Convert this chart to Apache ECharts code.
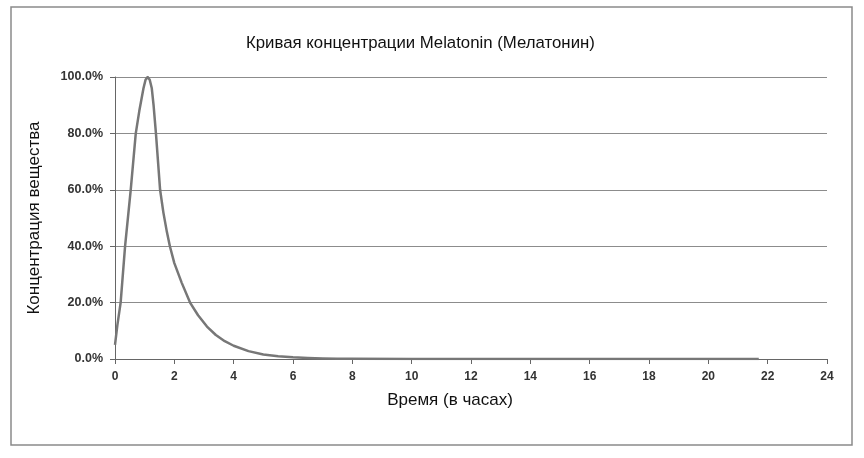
<!DOCTYPE html>
<html>
<head>
<meta charset="utf-8">
<script src="https://cdn.jsdelivr.net/npm/echarts@6/dist/echarts.min.js"></script>
<style>
    html, body { margin: 0; padding: 0; background: #fff; }
    #chart { width: 864px; height: 458px; }
</style>
</head>
<body>
<div id="chart"></div>
<script>
// hours after intake
const hours = [0, 0.08, 0.19, 0.34, 0.53, 0.7, 0.82, 0.96, 1.03, 1.1, 1.17, 1.24, 1.3, 1.38, 1.45, 1.52, 1.63, 1.75, 1.85, 2.0, 2.25, 2.53, 2.8, 3.1, 3.4, 3.7, 4.0, 4.5, 5.0, 5.5, 6.0, 6.5, 7.0, 7.5, 8, 10, 12, 14, 16, 18, 20, 21.7];
// concentration, % of peak
const concentration = [5, 12, 20, 40, 60, 80, 88, 96, 99, 100, 99, 96, 90, 80, 70, 60, 52, 45, 40, 34, 27, 20, 15.5, 11.5, 8.5, 6.3, 4.7, 2.8, 1.6, 1.0, 0.6, 0.35, 0.2, 0.1, 0.05, 0, 0, 0, 0, 0, 0, 0];
const xTicks = { min: 0, max: 24, interval: 2 };
const yTicks = { min: 0, max: 100, interval: 20 };

const points = hours.map((h, i) => [h, concentration[i]]);

const chart = echarts.init(document.getElementById('chart'));
const font = '"Liberation Sans", Arial, sans-serif';

chart.setOption({
    animation: false,
    graphic: [{
        type: 'rect',
        shape: { x: 11, y: 7, width: 841, height: 438 },
        style: { fill: 'none', stroke: '#8a8a8a', lineWidth: 1.5 }
    }],
    title: {
        text: 'Кривая концентрации Melatonin (Мелатонин)',
        left: 241,
        top: 30,
        textStyle: { fontFamily: font, fontSize: 16.8, fontWeight: 'normal', color: '#111' }
    },
    grid: { left: 115, right: 37, top: 77, bottom: 99 },
    xAxis: {
        type: 'value',
        min: xTicks.min,
        max: xTicks.max,
        interval: xTicks.interval,
        name: 'Время (в часах)',
        nameLocation: 'middle',
        nameGap: 33,
        nameTextStyle: { fontFamily: font, fontSize: 17, color: '#111', padding: [0, 42, 0, 0] },
        axisLine: { lineStyle: { color: '#666', width: 1 } },
        axisTick: { show: true, length: 5, lineStyle: { color: '#666' } },
        axisLabel: { fontFamily: font, fontSize: 12, fontWeight: 'bold', color: '#333', margin: 12 },
        splitLine: { show: false }
    },
    yAxis: {
        type: 'value',
        min: yTicks.min,
        max: yTicks.max,
        interval: yTicks.interval,
        name: 'Концентрация вещества',
        nameLocation: 'middle',
        nameGap: 72,
        nameTextStyle: { fontFamily: font, fontSize: 17, color: '#111' },
        axisLine: { show: true, lineStyle: { color: '#666', width: 1 } },
        axisTick: { show: true, length: 5, lineStyle: { color: '#666' } },
        axisLabel: {
            fontFamily: font, fontSize: 12.5, fontWeight: 'bold', color: '#333', margin: 12,
            formatter: v => v.toFixed(1) + '%'
        },
        splitLine: { show: true, lineStyle: { color: '#8c8c8c', width: 1 } }
    },
    series: [{
        type: 'line',
        data: points,
        showSymbol: false,
        smooth: false,
        lineStyle: { color: '#777', width: 2.5, join: 'round' }
    }]
});
</script>
</body>
</html>
